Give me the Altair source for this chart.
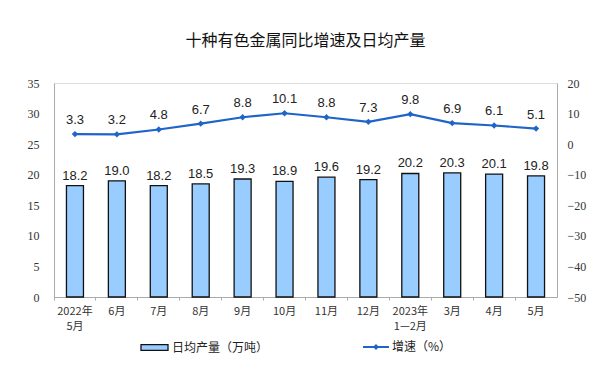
import altair as alt
import pandas as pd

months = ["2022年\n5月", "6月", "7月", "8月", "9月", "10月", "11月", "12月",
          "2023年\n1—2月", "3月", "4月", "5月"]
output = [18.2, 19.0, 18.2, 18.5, 19.3, 18.9, 19.6, 19.2, 20.2, 20.3, 20.1, 19.8]
growth = [3.3, 3.2, 4.8, 6.7, 8.8, 10.1, 8.8, 7.3, 9.8, 6.9, 6.1, 5.1]
series_bar = "日均产量（万吨）"
series_line = "增速（%）"

df = pd.DataFrame({
    "month": months,
    "output": output,
    "growth": growth,
    "s1": series_bar,
    "s2": series_line,
    "out_lbl": [f"{v:.1f}" for v in output],
    "gr_lbl": [f"{v:.1f}" for v in growth],
})

BAR_FILL = "#99ccff"
LINE_COLOR = "#1f64c8"
CJK = "Noto Sans CJK SC"

x_enc = alt.X(
    "month:N", sort=months, title=None,
    scale=alt.Scale(paddingInner=0, paddingOuter=0),
    axis=alt.Axis(
        labelExpr="split(datum.label, '\\n')", labelAngle=0,
        labelFont=CJK, labelFontSize=11, labelColor="#333",
        labelLineHeight=15, labelPadding=5,
        domainColor="#aaaaaa", tickColor="#aaaaaa", tickSize=3, bandPosition=0,
    ),
)

y_left = alt.Y(
    "output:Q", title=None,
    scale=alt.Scale(domain=[0, 35], nice=False),
    axis=alt.Axis(values=list(range(0, 36, 5)), grid=False, ticks=False,
                  labelPadding=15, labelFont="Liberation Serif", labelFontSize=12,
                  labelColor="#333", domainColor="#aaaaaa"),
)
y_right = alt.Y(
    "growth:Q", title=None,
    scale=alt.Scale(domain=[-50, 20], nice=False),
    axis=alt.Axis(orient="right", values=list(range(-50, 21, 10)), grid=False,
                  ticks=False, labelPadding=10, labelFont="Liberation Serif",
                  labelFontSize=12, labelColor="#333", domainColor="#aaaaaa"),
)

base = alt.Chart(df)

bars = base.mark_bar(size=17, stroke="#111", strokeWidth=1.3).encode(
    x=x_enc, y=y_left,
    fill=alt.Fill("s1:N", scale=alt.Scale(range=[BAR_FILL]), legend=alt.Legend(
        title=None, orient="none", legendX=86, legendY=250, padding=0,
        symbolType="M-1,-0.22H1V0.22H-1Z", symbolSize=729,
        symbolStrokeColor="#111", symbolStrokeWidth=1.3,
        labelFont=CJK, labelFontSize=12, labelColor="#222", labelOffset=3,
    )),
)
bar_text = base.mark_text(dy=-10, font="Liberation Sans", fontSize=13, color="#222").encode(
    x=x_enc, y=y_left, text="out_lbl:N"
)

line = base.mark_line(strokeWidth=2.2).encode(
    x=x_enc, y=y_right,
    stroke=alt.Stroke("s2:N", scale=alt.Scale(range=[LINE_COLOR]), legend=alt.Legend(
        title=None, orient="none", legendX=308, legendY=250, padding=0,
        symbolType="M-1,0H1M-0.12,0L0,-0.12L0.12,0L0,0.12Z", symbolSize=676,
        symbolStrokeWidth=2, symbolFillColor=LINE_COLOR,
        labelFont=CJK, labelFontSize=12, labelColor="#222", labelOffset=2,
    )),
)
points = base.mark_point(shape="diamond", filled=True, size=40, color=LINE_COLOR, opacity=1).encode(
    x=x_enc, y=y_right
)
line_text = base.mark_text(dy=-14, font="Liberation Sans", fontSize=13, color="#222").encode(
    x=x_enc, y=y_right, text="gr_lbl:N"
)

left = alt.layer(bars, bar_text)
right = alt.layer(line, points, line_text)

chart = alt.layer(left, right).resolve_scale(y="independent").properties(
    width=503, height=214,
    title=alt.TitleParams("十种有色金属同比增速及日均产量", font=CJK, fontSize=16,
                          fontWeight="normal", color="#111", offset=28),
    autosize=alt.AutoSizeParams(type="none"),
    padding={"left": 46, "top": 75, "right": 35, "bottom": 68},
).configure_view(stroke=None).configure(background="white")

chart.save("out.html", embed_options={"renderer": "svg", "actions": False})
